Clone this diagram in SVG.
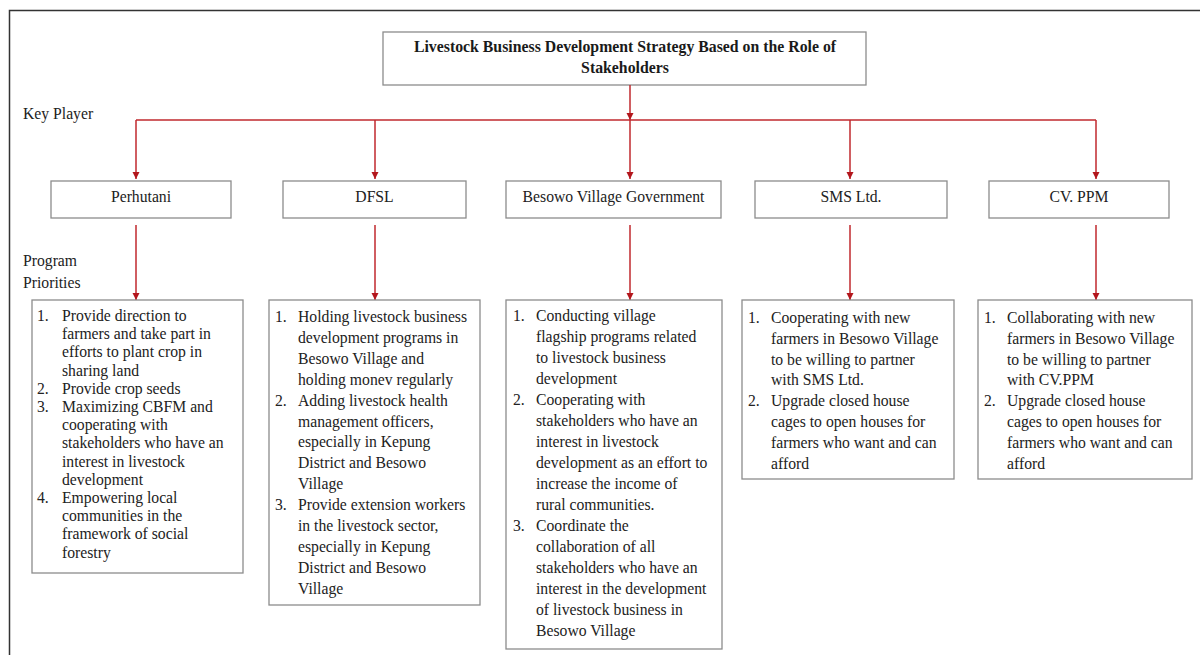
<svg xmlns="http://www.w3.org/2000/svg" width="1200" height="655" viewBox="0 0 1200 655">
<defs>
<marker id="ah" markerUnits="userSpaceOnUse" markerWidth="8" markerHeight="8" refX="7" refY="3.5" orient="auto">
<path d="M0,0 L7,3.5 L0,7 z" fill="#b3161c"/>
</marker>
<style>
.bx{fill:#fff;stroke:#8c8c8c;stroke-width:1.3}
.t{font-family:"Liberation Serif","Times New Roman",serif;font-size:15.7px;fill:#222}
.tb{font-family:"Liberation Serif","Times New Roman",serif;font-size:15.8px;font-weight:bold;fill:#1a1a1a}
.c{text-anchor:middle}
.ln{fill:none;stroke:#c0282e;stroke-width:1.5}
.ar{fill:none;stroke:#c0282e;stroke-width:1.5;marker-end:url(#ah)}
</style>
</defs>
<rect width="1200" height="655" fill="#fff"/>
<path d="M9.5,655 V10.5 H1200" fill="none" stroke="#333" stroke-width="1.5"/>

<g id="title">
<rect class="bx" x="383" y="32" width="483" height="53"/>
<text class="tb c" x="625" y="52">Livestock Business Development Strategy Based on the Role of</text>
<text class="tb c" x="625" y="73">Stakeholders</text>
</g>

<g id="labels">
<text class="t" x="23" y="119">Key Player</text>
<text class="t" x="23" y="266">Program</text>
<text class="t" x="23" y="288">Priorities</text>
</g>

<g id="connectors">
<line class="ar" x1="630" y1="85" x2="630" y2="120"/>
<path class="ln" d="M136,120 H1096"/>
<line class="ar" x1="136" y1="120" x2="136" y2="179"/>
<line class="ar" x1="375" y1="120" x2="375" y2="179"/>
<line class="ar" x1="630" y1="120" x2="630" y2="179"/>
<line class="ar" x1="850" y1="120" x2="850" y2="179"/>
<line class="ar" x1="1096" y1="120" x2="1096" y2="179"/>
<line class="ar" x1="136" y1="225" x2="136" y2="300"/>
<line class="ar" x1="375" y1="225" x2="375" y2="300"/>
<line class="ar" x1="630" y1="225" x2="630" y2="300"/>
<line class="ar" x1="850" y1="225" x2="850" y2="300"/>
<line class="ar" x1="1096" y1="225" x2="1096" y2="300"/>
</g>

<g id="perhutani">
<rect class="bx" x="51" y="181" width="180" height="37"/>
<text class="t c" x="141" y="202">Perhutani</text>
</g>
<g id="dfsl">
<rect class="bx" x="283" y="181" width="183" height="37"/>
<text class="t c" x="374.5" y="202">DFSL</text>
</g>
<g id="besowo">
<rect class="bx" x="506" y="181" width="215" height="37"/>
<text class="t c" x="613.5" y="202">Besowo Village Government</text>
</g>
<g id="sms">
<rect class="bx" x="755" y="181" width="192" height="37"/>
<text class="t c" x="851" y="202">SMS Ltd.</text>
</g>
<g id="cvppm">
<rect class="bx" x="989" y="181" width="180" height="37"/>
<text class="t c" x="1079" y="202">CV. PPM</text>
</g>

<g id="perhutani-priorities">
<rect class="bx" x="32" y="300" width="211" height="273"/>
<text class="t" y="321">
<tspan x="37">1.</tspan><tspan x="62">Provide direction to</tspan>
<tspan x="62" dy="18.2">farmers and take part in</tspan>
<tspan x="62" dy="18.2">efforts to plant crop in</tspan>
<tspan x="62" dy="18.2">sharing land</tspan>
<tspan x="37" dy="18.2">2.</tspan><tspan x="62">Provide crop seeds</tspan>
<tspan x="37" dy="18.2">3.</tspan><tspan x="62">Maximizing CBFM and</tspan>
<tspan x="62" dy="18.2">cooperating with</tspan>
<tspan x="62" dy="18.2">stakeholders who have an</tspan>
<tspan x="62" dy="18.2">interest in livestock</tspan>
<tspan x="62" dy="18.2">development</tspan>
<tspan x="37" dy="18.2">4.</tspan><tspan x="62">Empowering local</tspan>
<tspan x="62" dy="18.2">communities in the</tspan>
<tspan x="62" dy="18.2">framework of social</tspan>
<tspan x="62" dy="18.2">forestry</tspan>
</text>
</g>

<g id="dfsl-priorities">
<rect class="bx" x="269" y="300" width="211" height="305"/>
<text class="t" y="322">
<tspan x="275">1.</tspan><tspan x="298">Holding livestock business</tspan>
<tspan x="298" dy="20.9">development programs in</tspan>
<tspan x="298" dy="20.9">Besowo Village and</tspan>
<tspan x="298" dy="20.9">holding monev regularly</tspan>
<tspan x="275" dy="20.9">2.</tspan><tspan x="298">Adding livestock health</tspan>
<tspan x="298" dy="20.9">management officers,</tspan>
<tspan x="298" dy="20.9">especially in Kepung</tspan>
<tspan x="298" dy="20.9">District and Besowo</tspan>
<tspan x="298" dy="20.9">Village</tspan>
<tspan x="275" dy="20.9">3.</tspan><tspan x="298">Provide extension workers</tspan>
<tspan x="298" dy="20.9">in the livestock sector,</tspan>
<tspan x="298" dy="20.9">especially in Kepung</tspan>
<tspan x="298" dy="20.9">District and Besowo</tspan>
<tspan x="298" dy="20.9">Village</tspan>
</text>
</g>

<g id="besowo-priorities">
<rect class="bx" x="506" y="300" width="216" height="349"/>
<text class="t" y="321">
<tspan x="513">1.</tspan><tspan x="536">Conducting village</tspan>
<tspan x="536" dy="21">flagship programs related</tspan>
<tspan x="536" dy="21">to livestock business</tspan>
<tspan x="536" dy="21">development</tspan>
<tspan x="513" dy="21">2.</tspan><tspan x="536">Cooperating with</tspan>
<tspan x="536" dy="21">stakeholders who have an</tspan>
<tspan x="536" dy="21">interest in livestock</tspan>
<tspan x="536" dy="21">development as an effort to</tspan>
<tspan x="536" dy="21">increase the income of</tspan>
<tspan x="536" dy="21">rural communities.</tspan>
<tspan x="513" dy="21">3.</tspan><tspan x="536">Coordinate the</tspan>
<tspan x="536" dy="21">collaboration of all</tspan>
<tspan x="536" dy="21">stakeholders who have an</tspan>
<tspan x="536" dy="21">interest in the development</tspan>
<tspan x="536" dy="21">of livestock business in</tspan>
<tspan x="536" dy="21">Besowo Village</tspan>
</text>
</g>

<g id="sms-priorities">
<rect class="bx" x="742" y="300" width="212" height="179"/>
<text class="t" y="323">
<tspan x="748">1.</tspan><tspan x="771">Cooperating with new</tspan>
<tspan x="771" dy="20.8">farmers in Besowo Village</tspan>
<tspan x="771" dy="20.8">to be willing to partner</tspan>
<tspan x="771" dy="20.8">with SMS Ltd.</tspan>
<tspan x="748" dy="20.8">2.</tspan><tspan x="771">Upgrade closed house</tspan>
<tspan x="771" dy="20.8">cages to open houses for</tspan>
<tspan x="771" dy="20.8">farmers who want and can</tspan>
<tspan x="771" dy="20.8">afford</tspan>
</text>
</g>

<g id="cvppm-priorities">
<rect class="bx" x="978" y="300" width="214" height="179"/>
<text class="t" y="323">
<tspan x="984">1.</tspan><tspan x="1007">Collaborating with new</tspan>
<tspan x="1007" dy="20.8">farmers in Besowo Village</tspan>
<tspan x="1007" dy="20.8">to be willing to partner</tspan>
<tspan x="1007" dy="20.8">with CV.PPM</tspan>
<tspan x="984" dy="20.8">2.</tspan><tspan x="1007">Upgrade closed house</tspan>
<tspan x="1007" dy="20.8">cages to open houses for</tspan>
<tspan x="1007" dy="20.8">farmers who want and can</tspan>
<tspan x="1007" dy="20.8">afford</tspan>
</text>
</g>
</svg>
